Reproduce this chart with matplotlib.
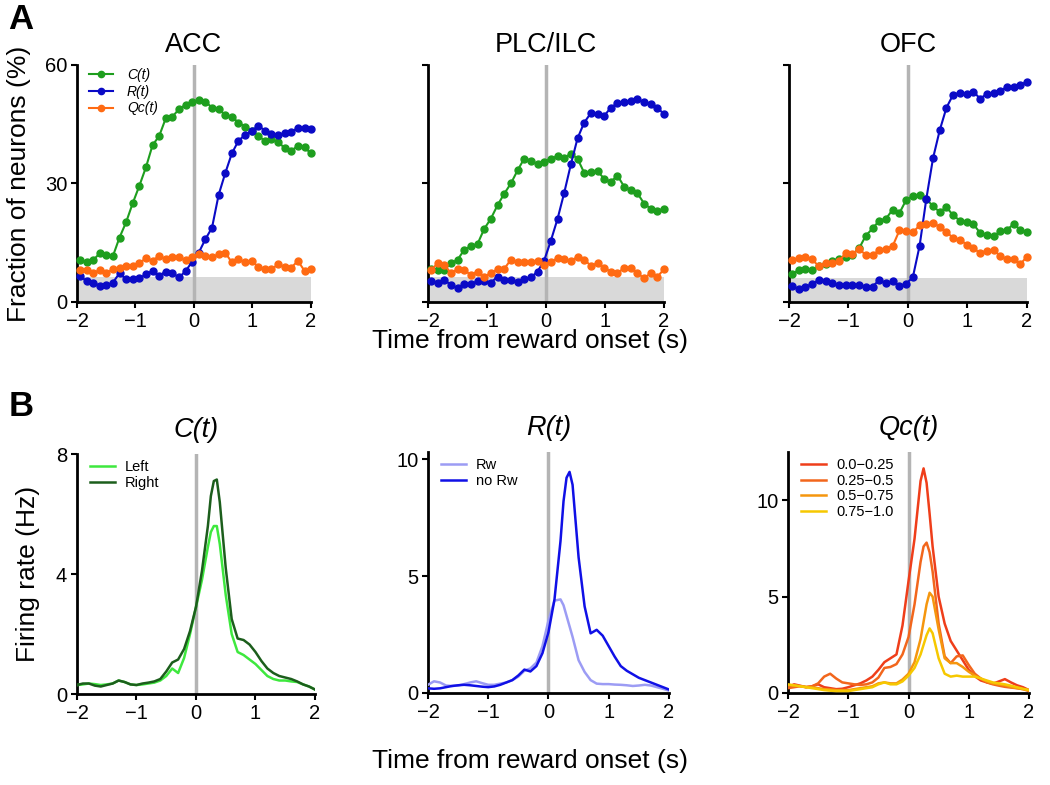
import matplotlib
matplotlib.use('Agg')
import matplotlib.pyplot as plt

plt.rcParams['font.family'] = ['Liberation Sans', 'DejaVu Sans']

# ---------------- Data: top row (fraction of neurons, %) ----------------
t_top = [-1.95, -1.837, -1.724, -1.611, -1.498, -1.386, -1.273, -1.160, -1.047,
         -0.934, -0.821, -0.708, -0.595, -0.482, -0.369, -0.256, -0.144, -0.031,
         0.082, 0.195, 0.308, 0.421, 0.534, 0.647, 0.760, 0.873, 0.986, 1.099,
         1.211, 1.324, 1.437, 1.550, 1.663, 1.776, 1.889, 2.0]

acc_C = [10.6, 10.2, 10.6, 12.3, 11.9, 11.6, 16.3, 20.2, 25.0, 29.4, 34.1, 39.7,
         42.0, 46.5, 46.9, 48.8, 49.9, 50.7, 51.1, 50.7, 49.2, 48.9, 47.3, 46.9,
         45.4, 44.4, 43.4, 42.0, 40.8, 41.2, 40.6, 38.9, 38.3, 39.5, 39.1, 37.6]
acc_R = [6.6, 5.3, 4.9, 4.1, 4.2, 4.9, 7.3, 5.7, 5.7, 6.0, 7.0, 7.9, 6.7, 7.7,
         7.3, 6.2, 7.8, 10.2, 12.5, 15.9, 18.8, 27.1, 32.6, 37.6, 40.8, 42.3,
         43.3, 44.6, 43.4, 42.5, 42.3, 42.7, 43.1, 44.0, 44.0, 43.8]
acc_Q = [8.1, 8.1, 7.3, 8.1, 7.3, 8.3, 8.7, 9.1, 9.1, 9.8, 11.1, 10.4, 11.7, 10.8,
         11.5, 11.3, 10.6, 11.5, 12.1, 11.7, 11.3, 12.1, 12.5, 10.0, 10.8, 10.0,
         10.4, 8.9, 8.3, 8.3, 9.5, 8.9, 8.7, 10.4, 7.9, 8.3]

plc_C = [8.3, 8.0, 8.1, 9.8, 10.7, 13.2, 14.1, 14.7, 18.5, 21.1, 24.5, 27.4, 30.0,
         33.3, 36.3, 35.8, 34.8, 35.5, 36.3, 36.9, 36.5, 37.5, 36.3, 32.7, 33.0,
         33.1, 31.2, 30.4, 32.0, 29.2, 28.3, 27.5, 24.9, 23.6, 23.1, 23.6]
plc_R = [5.4, 4.9, 5.6, 4.3, 3.5, 4.5, 4.5, 5.3, 5.2, 4.9, 6.4, 5.6, 5.6, 5.0, 5.8,
         6.2, 7.7, 10.5, 15.5, 21.0, 27.6, 34.8, 41.4, 45.4, 47.8, 47.5, 47.1,
         49.2, 50.3, 50.7, 50.9, 51.4, 50.5, 50.1, 49.2, 47.5]
plc_Q = [8.0, 9.8, 9.4, 7.3, 8.3, 8.0, 6.9, 7.7, 6.4, 7.3, 8.3, 8.4, 10.7, 10.0,
         10.1, 10.1, 10.3, 9.4, 10.1, 11.1, 10.9, 10.4, 11.4, 10.7, 9.2, 9.8, 8.6,
         7.7, 7.3, 8.6, 8.6, 7.3, 6.0, 7.3, 6.4, 8.3]

ofc_C = [7.1, 8.0, 8.3, 8.1, 9.0, 9.7, 10.5, 10.9, 11.4, 12.0, 13.6, 16.8, 18.6,
         20.6, 21.1, 23.4, 22.5, 25.8, 26.8, 27.2, 26.1, 24.2, 22.8, 24.0, 21.9,
         20.6, 20.3, 19.7, 17.5, 16.9, 16.6, 17.9, 18.3, 19.7, 18.3, 17.7]
ofc_R = [4.1, 3.2, 3.9, 4.5, 5.6, 5.2, 4.7, 4.3, 4.3, 4.3, 4.3, 3.9, 3.9, 5.6, 4.7,
         5.3, 4.1, 4.6, 6.3, 14.2, 26.1, 36.4, 43.5, 49.2, 52.5, 52.9, 52.6, 53.2,
         51.5, 52.6, 52.9, 53.3, 54.5, 54.3, 54.9, 55.8]
ofc_Q = [10.7, 11.1, 11.5, 10.8, 9.0, 9.8, 9.8, 10.3, 12.4, 12.2, 13.4, 11.9, 11.8,
         13.2, 13.5, 14.2, 18.1, 17.9, 17.6, 19.4, 19.7, 20.0, 19.0, 17.7, 16.2,
         15.8, 14.5, 13.6, 12.4, 13.0, 13.1, 11.7, 10.8, 10.8, 9.6, 11.5]

chance = [6.4, 6.3, 6.0]
top_titles = ['ACC', 'PLC/ILC', 'OFC']
top_series_labels = ['C(t)', 'R(t)', 'Qc(t)']

# ---------------- Data: bottom row (firing rate, Hz) ----------------
t_bot = [-2.0, -1.9, -1.8, -1.7, -1.6, -1.5, -1.4, -1.3, -1.2, -1.1, -1.0, -0.9,
         -0.8, -0.7, -0.6, -0.5, -0.4, -0.3, -0.2, -0.1, 0.0, 0.1, 0.2, 0.25, 0.3,
         0.35, 0.4, 0.5, 0.6, 0.7, 0.8, 0.9, 1.0, 1.1, 1.2, 1.3, 1.4, 1.5, 1.6,
         1.7, 1.8, 1.9, 2.0]

c_left = [0.30, 0.32, 0.35, 0.33, 0.30, 0.32, 0.35, 0.45, 0.40, 0.32, 0.30, 0.32,
          0.35, 0.38, 0.45, 0.60, 0.85, 0.70, 1.20, 2.00, 2.90, 3.80, 4.90, 5.40,
          5.60, 5.60, 5.00, 3.30, 2.00, 1.40, 1.30, 1.15, 1.00, 0.80, 0.60, 0.50,
          0.45, 0.45, 0.42, 0.40, 0.32, 0.25, 0.15]
c_right = [0.30, 0.35, 0.35, 0.28, 0.25, 0.30, 0.35, 0.45, 0.40, 0.32, 0.30, 0.35,
           0.38, 0.42, 0.50, 0.75, 1.05, 1.15, 1.50, 2.10, 2.90, 4.10, 5.60, 6.60,
           7.10, 7.15, 6.40, 4.20, 2.50, 1.85, 1.80, 1.65, 1.40, 1.10, 0.85, 0.70,
           0.60, 0.55, 0.50, 0.42, 0.32, 0.25, 0.15]

r_rw = [0.35, 0.50, 0.45, 0.32, 0.30, 0.32, 0.38, 0.45, 0.50, 0.42, 0.35, 0.35,
        0.40, 0.45, 0.55, 0.70, 0.95, 1.05, 1.30, 2.00, 3.10, 3.95, 4.00, 3.75,
        3.30, 2.85, 2.40, 1.40, 0.90, 0.55, 0.40, 0.38, 0.38, 0.36, 0.35, 0.33,
        0.30, 0.32, 0.35, 0.32, 0.25, 0.18, 0.10]
r_norw = [0.20, 0.18, 0.20, 0.25, 0.30, 0.33, 0.35, 0.33, 0.30, 0.27, 0.25, 0.28,
          0.35, 0.45, 0.55, 0.75, 1.00, 0.92, 1.15, 1.70, 2.60, 4.00, 6.50, 8.20,
          9.20, 9.45, 8.90, 5.80, 3.70, 2.55, 2.70, 2.45, 2.00, 1.55, 1.15, 0.95,
          0.80, 0.65, 0.55, 0.45, 0.35, 0.25, 0.15]

q1 = [0.30, 0.45, 0.38, 0.30, 0.35, 0.45, 0.30, 0.25, 0.20, 0.22, 0.30, 0.40,
      0.50, 0.65, 0.85, 1.20, 1.60, 1.80, 2.00, 3.50, 5.80, 8.00, 11.00, 11.65,
      10.90, 9.30, 7.60, 5.00, 3.60, 2.70, 2.20, 1.70, 1.20, 0.87, 0.65, 0.55,
      0.48, 0.60, 0.72, 0.55, 0.40, 0.30, 0.15]
q2 = [0.25, 0.30, 0.35, 0.30, 0.35, 0.50, 0.85, 1.00, 0.75, 0.55, 0.50, 0.45,
      0.42, 0.45, 0.55, 0.80, 1.30, 1.35, 1.50, 2.00, 2.90, 4.60, 6.80, 7.60,
      7.80, 7.30, 6.30, 3.60, 1.90, 1.55, 1.90, 1.95, 1.45, 1.00, 0.75, 0.55,
      0.45, 0.38, 0.32, 0.28, 0.25, 0.20, 0.10]
q3 = [0.40, 0.38, 0.35, 0.32, 0.30, 0.25, 0.20, 0.18, 0.15, 0.15, 0.15, 0.20,
      0.25, 0.30, 0.35, 0.50, 0.55, 0.50, 0.50, 0.70, 1.00, 1.60, 2.80, 3.70,
      4.60, 5.20, 5.00, 3.30, 1.80, 1.55, 1.55, 1.35, 1.10, 0.90, 0.75, 0.60,
      0.50, 0.45, 0.40, 0.32, 0.25, 0.20, 0.15]
q4 = [0.45, 0.40, 0.35, 0.30, 0.25, 0.20, 0.15, 0.12, 0.10, 0.10, 0.10, 0.15,
      0.20, 0.25, 0.30, 0.45, 0.55, 0.45, 0.45, 0.60, 0.90, 1.30, 2.00, 2.50,
      3.00, 3.35, 3.10, 1.80, 1.00, 0.85, 0.90, 0.85, 0.85, 0.85, 0.75, 0.65,
      0.55, 0.50, 0.45, 0.38, 0.30, 0.22, 0.15]

bot_titles = ['C(t)', 'R(t)', 'Qc(t)']
c_labels = ['Left', 'Right']
r_labels = ['Rw', 'no Rw']
q_labels = ['0.0\u22120.25', '0.25\u22120.5', '0.5\u22120.75', '0.75\u22121.0']

xticks = [-2, -1, 0, 1, 2]
top_yticks = [0, 30, 60]

# ---------------- Styling ----------------
GREEN = '#1e9e1e'
BLUE = '#0a0ac6'
ORANGE = '#ff6a12'
VLINE = '#b4b4b4'
SHADE = '#d9d9d9'

fig = plt.figure(figsize=(10.5, 7.85), dpi=100)

top_pos = [[0.0733, 0.6153, 0.2229, 0.302],
           [0.4076, 0.6153, 0.2248, 0.302],
           [0.7514, 0.6153, 0.2267, 0.302]]
bot_pos = [[0.0733, 0.1159, 0.2267, 0.3057],
           [0.4076, 0.1172, 0.2295, 0.3070],
           [0.7505, 0.1172, 0.2295, 0.3070]]


def style_axes(ax):
    for s in ['top', 'right']:
        ax.spines[s].set_visible(False)
    for s in ['left', 'bottom']:
        ax.spines[s].set_linewidth(2.0)
        ax.spines[s].set_color('black')
    ax.tick_params(axis='both', direction='out', length=4, width=1.5,
                   labelsize=14.5, pad=3)
    ax.set_xlim(-2, 2)
    ax.set_xticks(xticks)


top_data = [(acc_C, acc_R, acc_Q), (plc_C, plc_R, plc_Q), (ofc_C, ofc_R, ofc_Q)]
for i in range(3):
    ax = fig.add_axes(top_pos[i])
    style_axes(ax)
    ax.set_ylim(0, 60)
    ax.set_yticks(top_yticks)
    if i != 0:
        ax.set_yticklabels([])
    ax.fill_between([-2, 2], 0, chance[i], color=SHADE, lw=0, zorder=0)
    ax.axvline(0, color=VLINE, lw=2.5, zorder=1)
    C, R, Q = top_data[i]
    for ys, col, lab in zip((C, R, Q), (GREEN, BLUE, ORANGE), top_series_labels):
        ax.plot(t_top, ys, '-o', color=col, lw=1.5, ms=5, mec=col,
                label=lab, clip_on=False, zorder=3)
    ax.set_title(top_titles[i], fontsize=19.5, pad=9)
    if i == 0:
        ax.set_ylabel('Fraction of neurons (%)', fontsize=19)
        ax.yaxis.set_label_coords(-0.195, 0.5)
        ax.legend(loc='upper left', bbox_to_anchor=(0.0, 1.04),
                  frameon=False, handlelength=1.7, handletextpad=1.0,
                  labelspacing=0.2, markerscale=0.9,
                  prop={'style': 'italic', 'size': 10})

bot_series = [
    ([c_left, c_right], ['#3ee83e', '#1c5e1c'], c_labels, (0, 8), [0, 4, 8]),
    ([r_rw, r_norw], ['#9c9cf4', '#1010e6'], r_labels, (0, 10.3), [0, 5, 10]),
    ([q1, q2, q3, q4], ['#ef3e1a', '#f2661c', '#f5960e', '#f6c800'], q_labels,
     (0, 12.5), [0, 5, 10]),
]
for i in range(3):
    ax = fig.add_axes(bot_pos[i])
    style_axes(ax)
    series, cols, labs, ylim, yt = bot_series[i]
    ax.set_ylim(*ylim)
    ax.set_yticks(yt)
    ax.axvline(0, color=VLINE, lw=2.5, zorder=1)
    for ys, col, lab in zip(series, cols, labs):
        ax.plot(t_bot, ys, '-', color=col, lw=1.8, label=lab,
                solid_joinstyle='round', zorder=3)
    ax.set_title(bot_titles[i], fontsize=19.5, style='italic', pad=12)
    ax.legend(loc='upper left', bbox_to_anchor=(0.0, 1.03), frameon=False,
              fontsize=10.5, handlelength=1.7, handletextpad=0.7,
              labelspacing=0.12)
    if i == 0:
        ax.set_ylabel('Firing rate (Hz)', fontsize=19)
        ax.yaxis.set_label_coords(-0.155, 0.5)

fig.text(0.505, 0.565, 'Time from reward onset (s)', ha='center', va='center',
         fontsize=19)
fig.text(0.505, 0.03, 'Time from reward onset (s)', ha='center', va='center',
         fontsize=19)
fig.text(0.008, 0.975, 'A', fontsize=25, fontweight='bold', ha='left', va='center')
fig.text(0.008, 0.482, 'B', fontsize=25, fontweight='bold', ha='left', va='center')

fig.savefig('out.png', dpi=100)
